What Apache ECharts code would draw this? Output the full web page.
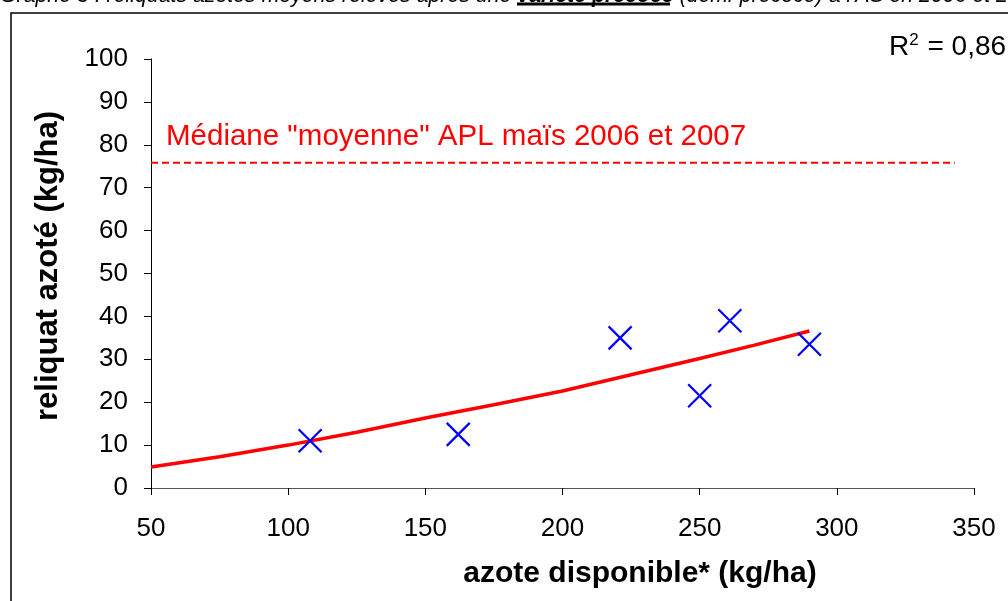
<!DOCTYPE html>
<html>
<head>
<meta charset="utf-8">
<script src="https://cdn.jsdelivr.net/npm/echarts@6/dist/echarts.min.js"></script>
<style>
  html, body { margin: 0; padding: 0; background: #fff; }
  #chart { width: 1008px; height: 601px; }
</style>
</head>
<body>
<div id="chart"></div>
<script>
// measured points (azote disponible, reliquat)
const pointsX = [108, 162, 221, 250, 261, 290]
const pointsY = [11, 12.5, 35, 21.5, 39, 33.5]

// trend curve
const trendX = [50, 75, 100, 125, 150, 175, 200, 225, 250, 270, 290]
const trendY = [4.9, 7.3, 10.0, 13.0, 16.3, 19.4, 22.6, 26.4, 30.2, 33.3, 36.6]

// median APL line
const medianX = [50, 343]
const medianY = [75.8, 75.8]

const xTicks = { min: 50, max: 350, interval: 50 }
const yTicks = { min: 0, max: 100, interval: 10 }

const font = 'Liberation Sans, Arial, sans-serif'
const chart = echarts.init(document.getElementById('chart'))

chart.setOption({
  animation: false,
  grid: { left: 151, right: 34, top: 59, bottom: 113 },
  xAxis: {
    type: 'value',
    min: xTicks.min, max: xTicks.max, interval: xTicks.interval,
    axisLine: { lineStyle: { color: '#555', width: 1 } },
    axisTick: { inside: false, length: 7, lineStyle: { color: '#000' } },
    axisLabel: { fontFamily: font, fontSize: 26, color: '#000', margin: 28 },
    splitLine: { show: false }
  },
  yAxis: {
    type: 'value',
    min: yTicks.min, max: yTicks.max, interval: yTicks.interval,
    axisLine: { show: true, lineStyle: { color: '#000', width: 1 } },
    axisTick: { show: true, inside: false, length: 7, lineStyle: { color: '#000' } },
    axisLabel: { fontFamily: font, fontSize: 26, color: '#000', margin: 23 },
    splitLine: { show: false }
  },
  series: [
    {
      name: 'median',
      type: 'line',
      showSymbol: false,
      data: medianX.map((x, i) => [x, medianY[i]]),
      lineStyle: { color: '#ff0000', width: 2, type: [7, 4] },
      z: 1
    },
    {
      name: 'trend',
      type: 'line',
      showSymbol: false,
      data: trendX.map((x, i) => [x, trendY[i]]),
      lineStyle: { color: '#ff0000', width: 3.5 },
      z: 2
    },
    {
      name: 'points',
      type: 'scatter',
      symbol: 'path://M0,0L10,10M10,0L0,10',
      symbolSize: 23,
      data: pointsX.map((x, i) => [x, pointsY[i]]),
      itemStyle: { color: 'transparent', borderColor: '#0000ff', borderWidth: 2.2, opacity: 1 },
      z: 3
    }
  ],
  graphic: [
    {
      type: 'rect',
      shape: { x: 11, y: 13, width: 1010, height: 600 },
      style: { fill: 'none', stroke: '#000', lineWidth: 1.5 },
      silent: true
    },
    {
      type: 'text',
      left: 0, top: -14,
      style: {
        text: '{n|Graphe 3 : reliquats azotés moyens relevés après une }{b|variété précoce}{n| (demi-précoce) à l\'AS en 2006 et 2007}',
        rich: {
          n: { fontFamily: font, fontStyle: 'italic', fontSize: 21.3, fill: '#000' },
          b: { fontFamily: font, fontStyle: 'italic', fontWeight: 'bold', fontSize: 21.3, fill: '#000' }
        }
      }
    },
    {
      type: 'line',
      shape: { x1: 517, y1: 4, x2: 670, y2: 4 },
      style: { stroke: '#000', lineWidth: 3 }
    },
    {
      type: 'text',
      x: 166, y: 137,
      style: { text: 'Médiane "moyenne" APL maïs 2006 et 2007', fontFamily: font, fontSize: 29.5, fill: '#ff0000', verticalAlign: 'middle' }
    },
    {
      type: 'text',
      x: 889, y: 47,
      style: {
        text: 'R{s|2} = 0,86',
        fontFamily: font, fontSize: 28, fill: '#000', verticalAlign: 'middle',
        rich: { s: { fontFamily: font, fontSize: 17, fill: '#000', verticalAlign: 'top', padding: [0, 1, 14, 0] } }
      }
    },
    {
      type: 'text',
      x: 640, y: 574,
      style: { text: 'azote disponible* (kg/ha)', fontFamily: font, fontWeight: 'bold', fontSize: 30, fill: '#000', align: 'center', verticalAlign: 'middle' }
    },
    {
      type: 'text',
      x: 48, y: 266,
      rotation: Math.PI / 2,
      style: { text: 'reliquat azoté (kg/ha)', fontFamily: font, fontWeight: 'bold', fontSize: 31, fill: '#000', align: 'center', verticalAlign: 'middle' }
    }
  ]
})
</script>
</body>
</html>
